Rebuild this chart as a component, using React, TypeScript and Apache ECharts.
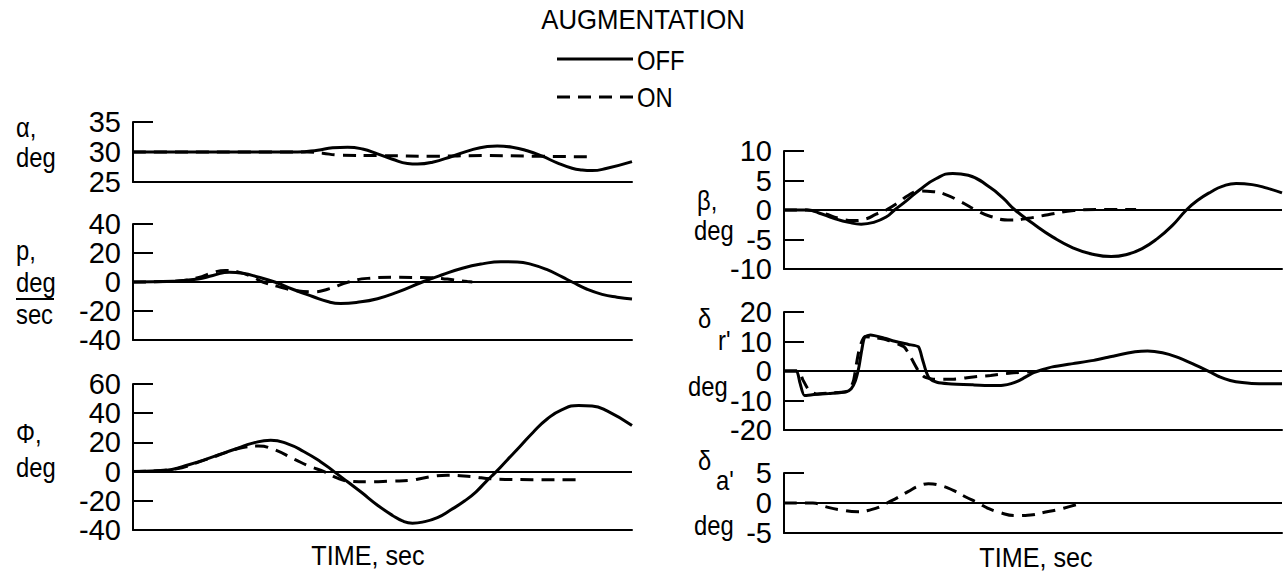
import React, { useEffect, useRef } from "react";
import * as echarts from "echarts";

const FONT = '"Liberation Sans", Arial, sans-serif';

// ---- data: [time (0-100 of record), value] ----
const alphaOff = [[0,30],[20,30],[33,30],[37,30.3],[40,30.7],[43,30.8],[46,30.5],[49,29.7],[52,28.8],[55,28.1],[57,28],[60,28.3],[64,29.3],[68,30.4],[71,30.9],[73,31],[76,30.8],[79,30.2],[82,29.3],[85,28.2],[88,27.3],[90,27],[92,26.9],[95,27.3],[100,28.4]];
const alphaOn = [[0,30],[35,30],[38,29.8],[41,29.5],[50,29.4],[60,29.3],[70,29.4],[80,29.3],[92,29.2]];

const pOff = [[0,0],[8,0.5],[13,2],[16,4.5],[19.3,6.8],[22,6],[25,3.5],[28.4,0],[32,-5],[36,-10],[39,-13.5],[41.6,-14.8],[45,-14],[49,-11.5],[53,-7],[58,0],[62,5],[66,9.5],[70,12.5],[73.7,14],[77,13.8],[80,12],[83,8.5],[86,3.5],[88,0],[91,-5],[94,-8.5],[97,-10.5],[100,-11.8]];
const pOn = [[0,0],[8,0.5],[13,3],[16,6.5],[18.5,8],[21,7],[24,3.5],[26,0],[29,-3],[32,-5.5],[35.8,-6.8],[39,-5],[43.2,0],[47,2.5],[52,3.2],[59.7,3],[63,2],[67,0.3],[68,0]];

const phiOff = [[0,0],[5,0.5],[7.8,1.5],[11,4.5],[14.4,8.2],[18,12.5],[21,16],[24,19.5],[27.6,21.5],[31,19],[34.2,13.8],[37.5,7],[40.3,0],[43,-7],[45.7,-14],[49,-23],[52,-30],[54,-33.8],[56,-35.3],[58,-34.6],[61,-31.5],[63.8,-26],[66.5,-20],[68.7,-14],[70.7,-7],[72.8,0],[75,8],[77.5,17],[80.2,27],[83,36],[86,42.5],[89.3,45.3],[92,45],[95,41.6],[100,31.6]];
const phiOn = [[0,0],[7.8,1.5],[14.4,8],[19,13.5],[22,16.5],[25.1,17.5],[28,15.5],[32.5,8.2],[35.5,3.5],[38.3,0],[41,-4.5],[43.2,-6.5],[47,-7],[52,-6.5],[55.6,-6],[58,-4.5],[60.5,-3],[63,-2.5],[67.9,-3.5],[72,-5],[80,-5.5],[90,-5.5]];

const betaOff = [[0,0],[4.6,0],[7,-0.5],[10,-1.4],[13,-2.1],[15.5,-2.4],[18,-2.1],[20.5,-1.2],[22.2,0],[24.5,1.5],[27.2,3.4],[30.5,5.3],[33.9,6.2],[37,5.9],[41.4,3.8],[44,2],[46.4,0],[50,-2.3],[54,-4.6],[58,-6.4],[62,-7.5],[65.7,-7.9],[69,-7.5],[72,-6.5],[74.9,-4.9],[78,-2.6],[80.8,0],[83,1.6],[85.8,3.1],[88,4],[90.8,4.5],[94,4.3],[97,3.7],[100,2.9]];
const betaOn = [[0,0],[4.6,0],[8,-0.6],[11,-1.4],[13.8,-1.8],[16.5,-1.5],[18.5,-0.7],[20.5,0],[23,1.3],[25,2.5],[27.2,3.2],[30,3.1],[32.2,2.7],[35.5,1.4],[38.5,0],[41.5,-1.1],[45.6,-1.7],[49,-1.4],[53,-0.8],[58.2,-0.1],[64,0.1],[70.7,0.1]];

const rudderOff = [[0,0],[2.5,0],[3.2,-4],[4.1,-8.3],[6,-8],[9,-7.6],[12.4,-7.1],[13.5,-6],[14.3,-3.5],[15,1],[15.6,7],[16.2,11.5],[17.4,12.2],[20,11.2],[22.4,10],[25,9],[27,8.2],[27.8,4],[28.5,0],[29.2,-2.5],[30.7,-3.8],[33,-4.3],[38,-4.7],[41.5,-4.9],[44,-4.8],[45.6,-4.3],[47.5,-3],[49.8,-0.8],[52,0.5],[53.9,1.4],[58,2.5],[62.2,3.6],[66,5],[70.5,6.5],[73,6.8],[76,6.2],[78.8,4.8],[82,2.5],[85.5,-0.3],[87.5,-2],[89.6,-3.2],[92,-3.9],[95.4,-4.3],[100,-4.3]];
const rudderOn = [[0,0],[2.9,0],[3.8,-3],[5,-6.5],[6.5,-7.8],[9,-7.5],[12.4,-7],[13.3,-6],[14,-3],[14.5,2],[15.2,8],[16.2,11.6],[17.4,11.5],[20.7,10.5],[24.1,8.2],[25.5,4.5],[27,0],[28.2,-2],[30,-2.8],[34,-2.8],[38,-2],[41.5,-1.5],[45.6,-0.7],[49.8,-0.2]];

const aileronOn = [[0,0],[5.8,0],[8.3,-0.6],[11,-1.1],[14.9,-1.45],[17.5,-1.1],[19.9,-0.4],[20.7,0],[22.8,0.9],[24.9,1.9],[27,2.8],[29,3.2],[31.5,2.9],[34,2.1],[36.5,1],[39,0],[41,-0.9],[43.2,-1.55],[46.5,-2.1],[49.5,-2],[52.3,-1.55],[55,-1.1],[57.3,-0.6],[59.8,0]];

// y-axis ranges [min, max, interval]
const alphaRange = [25, 35, 5];
const pRange = [-40, 40, 20];
const phiRange = [-40, 60, 20];
const betaRange = [-10, 10, 5];
const rudderRange = [-20, 20, 10];
const aileronRange = [-5, 5, 5];

const legendNames = ["OFF", "ON"];
const titleText = "AUGMENTATION";
const timeLabel = "TIME, sec";

export default function App() {
  const ref = useRef<HTMLDivElement>(null);
  useEffect(() => {
    if (!ref.current) return;
    const chart = echarts.init(ref.current, null, { renderer: "svg" });

    const panels = [
      { range: alphaRange, box: [133, 122, 499, 60], off: alphaOff, on: alphaOn, zero: false, sm: 0.5 },
      { range: pRange, box: [133, 224, 499, 116], off: pOff, on: pOn, zero: true, sm: 0.5 },
      { range: phiRange, box: [133, 384, 499, 146], off: phiOff, on: phiOn, zero: true, sm: 0.5 },
      { range: betaRange, box: [784, 151, 498, 118], off: betaOff, on: betaOn, zero: true, sm: 0.5 },
      { range: rudderRange, box: [784, 312, 498, 118], off: rudderOff, on: rudderOn, zero: true, sm: 0.2 },
      { range: aileronRange, box: [784, 473, 498, 60], off: null, on: aileronOn, zero: true, sm: 0.5 },
    ];

    const zeroLine = {
      silent: true,
      animation: false,
      symbol: ["none", "none"],
      label: { show: false },
      lineStyle: { color: "#000", width: 2, type: "solid" },
      data: [{ yAxis: 0 }],
    };

    const DASH = [13, 8];
    const mkSeries = (name: string, data: any, idx: number, dashed: boolean, zero: boolean, sm: number) => ({
      type: "line",
      name,
      data,
      xAxisIndex: idx,
      yAxisIndex: idx,
      symbol: "none",
      showSymbol: false,
      smooth: sm,
      lineStyle: { color: "#000", width: 3, type: dashed ? DASH : "solid" },
      itemStyle: { color: "#000" },
      markLine: zero ? zeroLine : undefined,
    });

    const series: any[] = [];
    panels.forEach((p, i) => {
      if (p.off) series.push(mkSeries(legendNames[0], p.off, i, false, p.zero, p.sm));
      series.push(mkSeries(legendNames[1], p.on, i, true, p.zero && !p.off, p.sm));
    });

    const txt = (text: string, x: number, y: number, size = 28, align = "left", sx = 0.85) => ({
      type: "text",
      x,
      y,
      scaleX: sx,
      style: { text, fill: "#000", fontSize: size, fontFamily: FONT, align, verticalAlign: "middle" },
    });

    const option: any = {
      animation: false,
      backgroundColor: "#fff",
      grid: panels.map((p) => ({
        left: p.box[0], top: p.box[1], width: p.box[2], height: p.box[3],
        containLabel: false, outerBoundsMode: "none",
      })),
      xAxis: panels.map((p, i) => ({
        type: "value",
        gridIndex: i,
        min: 0,
        max: 100,
        axisLine: { show: true, onZero: false, lineStyle: { color: "#000", width: 2 } },
        axisTick: { show: false },
        axisLabel: { show: false },
        splitLine: { show: false },
      })),
      yAxis: panels.map((p, i) => ({
        type: "value",
        gridIndex: i,
        min: p.range[0],
        max: p.range[1],
        interval: p.range[2],
        axisLine: { show: true, lineStyle: { color: "#000", width: 2 } },
        axisTick: { show: true, inside: true, length: 20, lineStyle: { color: "#000", width: 2 } },
        axisLabel: {
          fontSize: 29, fontFamily: FONT, color: "#000", margin: 12, interval: 0,
          showMinLabel: true, showMaxLabel: true, hideOverlap: false,
        },
        splitLine: { show: false },
      })),
      series,
      graphic: [
        // title and legend
        txt(titleText, 643, 20, 28, "center", 0.92),
        { type: "line", shape: { x1: 557, y1: 59, x2: 633, y2: 59 }, style: { stroke: "#000", lineWidth: 3 } },
        txt(legendNames[0], 637, 60, 28),
        { type: "line", shape: { x1: 557, y1: 97, x2: 633, y2: 97 }, style: { stroke: "#000", lineWidth: 3, lineDash: [13, 8] } },
        txt(legendNames[1], 637, 97, 28),
        // left y-axis names
        txt("α,", 16, 127),
        txt("deg", 16, 157),
        txt("p,", 16, 250),
        txt("deg", 16, 282),
        { type: "line", shape: { x1: 16, y1: 299, x2: 54, y2: 299 }, style: { stroke: "#000", lineWidth: 2 } },
        txt("sec", 16, 314),
        txt("Φ,", 16, 433),
        txt("deg", 16, 467),
        // right y-axis names
        txt("β,", 697, 200),
        txt("deg", 694, 230),
        txt("δ", 698, 318),
        txt("r'", 718, 340),
        txt("deg", 688, 386),
        txt("δ", 698, 460),
        txt("a'", 716, 480),
        txt("deg", 694, 525),
        // time labels
        txt(timeLabel, 368, 556, 28, "center", 0.9),
        txt(timeLabel, 1036, 558, 28, "center", 0.9),
      ],
    };

    chart.setOption(option);
    return () => chart.dispose();
  }, []);

  return (
    <div
      ref={ref}
      style={{ position: "fixed", left: 0, top: 0, width: 1286, height: 575, background: "#fff" }}
    />
  );
}
